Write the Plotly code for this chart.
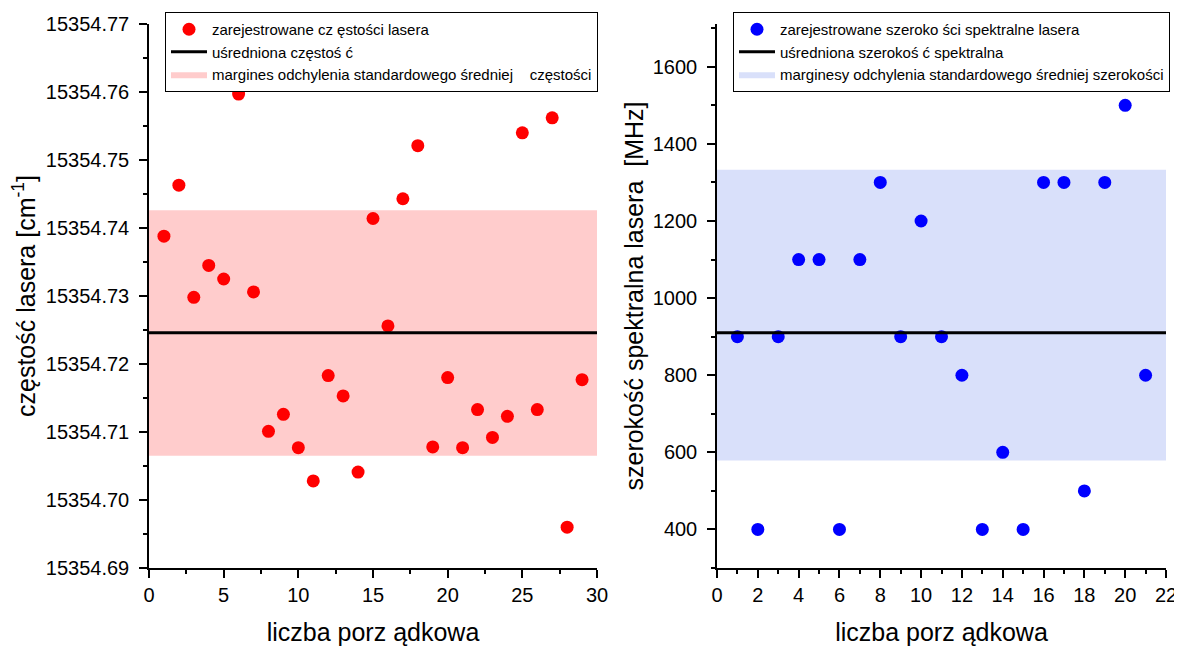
import plotly.graph_objects as go

# ---- data: left panel (laser frequency) ----
freq_idx = list(range(1, 30))
freq_vals = [15354.7388, 15354.7463, 15354.7298, 15354.7345, 15354.7325, 15354.7597,
             15354.7306, 15354.7101, 15354.7126, 15354.7077, 15354.7028, 15354.7183,
             15354.7153, 15354.7041, 15354.7414, 15354.7256, 15354.7443, 15354.7521,
             15354.7078, 15354.7180, 15354.7077, 15354.7133, 15354.7092, 15354.7123,
             15354.7540, 15354.7133, 15354.7562, 15354.6960, 15354.7177]
freq_mean = 15354.7246
freq_low, freq_high = 15354.7065, 15354.7426
freq_xspan = [0, 30]

# ---- data: right panel (spectral width) ----
width_idx = list(range(1, 22))
width_vals = [900, 400, 900, 1100, 1100, 400, 1100, 1300, 900, 1200, 900,
              800, 400, 600, 400, 1300, 1300, 500, 1300, 1500, 800]
width_mean = 910
width_low, width_high = 579, 1333
width_xspan = [0, 22]

# page body has an 8px margin, so the figure is sized to end at the window edge
OFF = 8
W, H = 1182 - OFF, 646 - OFF
FONT = "Liberation Sans, Arial, sans-serif"


def px_x(x):
    return (x - OFF) / W


def px_y(y):
    return 1 - (y - OFF) / H


fig = go.Figure()

# left
fig.add_trace(go.Scatter(x=[freq_xspan[0], freq_xspan[1], freq_xspan[1], freq_xspan[0], freq_xspan[0]],
                         y=[freq_low, freq_low, freq_high, freq_high, freq_low],
                         fill="toself", fillcolor="rgb(255,204,204)", mode="lines",
                         line=dict(width=0, color="rgb(255,204,204)"),
                         name="margines odchylenia standardowego średniej    częstości",
                         xaxis="x", yaxis="y", legend="legend", legendrank=3))
fig.add_trace(go.Scatter(x=freq_idx, y=freq_vals, mode="markers",
                         marker=dict(color="rgb(255,0,0)", size=13),
                         name="zarejestrowane cz ęstości lasera",
                         xaxis="x", yaxis="y", legend="legend", legendrank=1))
fig.add_trace(go.Scatter(x=freq_xspan, y=[freq_mean, freq_mean], mode="lines",
                         line=dict(color="black", width=3),
                         name="uśredniona częstoś ć",
                         xaxis="x", yaxis="y", legend="legend", legendrank=2))

# right
fig.add_trace(go.Scatter(x=[width_xspan[0], width_xspan[1], width_xspan[1], width_xspan[0], width_xspan[0]],
                         y=[width_low, width_low, width_high, width_high, width_low],
                         fill="toself", fillcolor="rgb(217,224,250)", mode="lines",
                         line=dict(width=0, color="rgb(217,224,250)"),
                         name="marginesy odchylenia standardowego średniej szerokości",
                         xaxis="x2", yaxis="y2", legend="legend2", legendrank=3))
fig.add_trace(go.Scatter(x=width_idx, y=width_vals, mode="markers",
                         marker=dict(color="rgb(0,0,255)", size=13),
                         name="zarejestrowane szeroko ści spektralne lasera",
                         xaxis="x2", yaxis="y2", legend="legend2", legendrank=1))
fig.add_trace(go.Scatter(x=width_xspan, y=[width_mean, width_mean], mode="lines",
                         line=dict(color="black", width=3),
                         name="uśredniona szerokoś ć spektralna",
                         xaxis="x2", yaxis="y2", legend="legend2", legendrank=2))

axis_common = dict(showline=True, linecolor="black", linewidth=1.5, ticks="outside",
                   ticklen=8, tickwidth=1.5, tickcolor="black", showgrid=False, zeroline=False,
                   automargin=False,
                   tickfont=dict(size=20, color="black", family=FONT))


def minor(d):
    return dict(ticks="outside", ticklen=4, tickwidth=1.5, tickcolor="black", dtick=d)


ydom = [px_y(568), px_y(24)]

fig.update_layout(
    width=W, height=H, margin=dict(l=0, r=0, t=0, b=0),
    plot_bgcolor="white", paper_bgcolor="white",
    font=dict(family=FONT, color="black"),
    xaxis=dict(domain=[px_x(149), px_x(597)], range=[0, 30], dtick=5, anchor="y",
               minor=minor(2.5),
               title=dict(text="liczba porz ądkowa", font=dict(size=25), standoff=24),
               **axis_common),
    yaxis=dict(domain=ydom, range=[15354.69, 15354.77], dtick=0.01, tickformat=".2f",
               anchor="x", minor=minor(0.005), ticklabelstandoff=6,
               title=dict(text="częstość lasera [cm<sup>-1</sup>]", font=dict(size=25), standoff=18),
               **axis_common),
    xaxis2=dict(domain=[px_x(717), px_x(1166)], range=[0, 22], dtick=2, anchor="y2",
                minor=minor(1),
                title=dict(text="liczba porz ądkowa", font=dict(size=25), standoff=24),
                **axis_common),
    yaxis2=dict(domain=ydom, range=[300, 1711], dtick=200, tick0=0, anchor="x2",
                minor=minor(100), ticklabelstandoff=6,
                title=dict(text="szerokość spektralna lasera  [MHz]", font=dict(size=25), standoff=2),
                **axis_common),
    legend=dict(x=px_x(165), y=px_y(12), xanchor="left", yanchor="top",
                bgcolor="white", bordercolor="black", borderwidth=1,
                font=dict(size=15, family=FONT), tracegroupgap=0, itemwidth=36),
    legend2=dict(x=px_x(733), y=px_y(12), xanchor="left", yanchor="top",
                 bgcolor="white", bordercolor="black", borderwidth=1,
                 font=dict(size=15, family=FONT), tracegroupgap=0, itemwidth=36),
    showlegend=True,
)

fig.write_html("out.html")
